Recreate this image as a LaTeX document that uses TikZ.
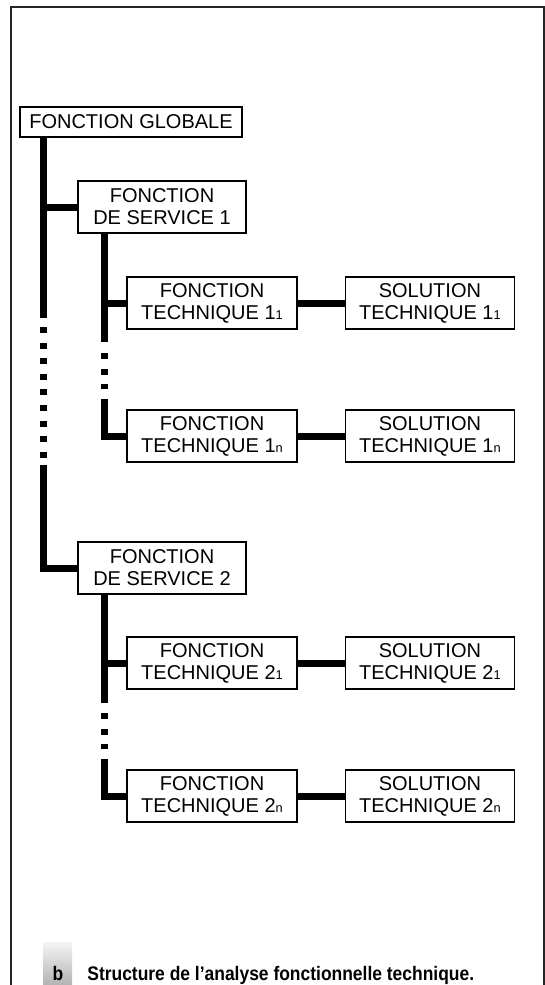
\documentclass[tikz,border=0pt]{standalone}
\usepackage{fontspec}
\setmainfont{Liberation Sans}
\newfontfamily\capfont[FakeStretch=0.89]{Liberation Sans}
\usepackage{tikz}
\usetikzlibrary{positioning,calc}
\newcommand{\lowidx}[1]{{\fontsize{6.4pt}{6.4pt}\selectfont #1}}
\tikzset{
  fglob/.style={draw, rectangle, line width=0.7pt, minimum width=111pt, minimum height=15pt, inner sep=1pt, align=center, font=\fontsize{10pt}{11pt}\selectfont},
  fserv/.style={draw, rectangle, line width=0.7pt, minimum width=84pt, minimum height=26pt, inner sep=1pt, align=center, font=\fontsize{10pt}{11pt}\selectfont},
  ftech/.style={draw, rectangle, line width=0.7pt, minimum width=85pt, minimum height=26pt, inner sep=1pt, align=center, font=\fontsize{10pt}{11pt}\selectfont},
  stech/.style={draw, rectangle, line width=0.7pt, minimum width=84.5pt, minimum height=26pt, inner sep=1pt, align=center, font=\fontsize{10pt}{11pt}\selectfont},
  bar/.style={line width=3.5pt, line join=miter},
  dotbar/.style={dash pattern=on 3pt off 4.8pt},
  frame/.style={line width=0.75pt, black!85},
  tagbox/.style={top color=gray!8, bottom color=gray!60, draw=none},
  capt/.style={font=\capfont\bfseries\fontsize{9.8pt}{11pt}\selectfont, inner sep=0pt}
}

\begin{document}
\begin{tikzpicture}[x=0.5pt, y=-0.5pt, node distance=23.5pt]
  \useasboundingbox (0,0) rectangle (545,985);
  \draw[frame] (11,985) -- (11,7) -- (544,7) -- (544,985);

  \node[fglob] (fg) at (131,122) {FONCTION GLOBALE};
  \node[fserv] (fs1) at (162,207) {FONCTION\\DE SERVICE 1};
  \node[ftech] (ft11) at (212,303) {FONCTION\\TECHNIQUE 1\lowidx{1}};
  \node[stech, right=of ft11] (st11) {SOLUTION\\TECHNIQUE 1\lowidx{1}};
  \node[ftech] (ft1n) at (212,436) {FONCTION\\TECHNIQUE 1\lowidx{n}};
  \node[stech, right=of ft1n] (st1n) {SOLUTION\\TECHNIQUE 1\lowidx{n}};
  \node[fserv] (fs2) at (162,568) {FONCTION\\DE SERVICE 2};
  \node[ftech] (ft21) at (212,663) {FONCTION\\TECHNIQUE 2\lowidx{1}};
  \node[stech, right=of ft21] (st21) {SOLUTION\\TECHNIQUE 2\lowidx{1}};
  \node[ftech] (ft2n) at (212,796) {FONCTION\\TECHNIQUE 2\lowidx{n}};
  \node[stech, right=of ft2n] (st2n) {SOLUTION\\TECHNIQUE 2\lowidx{n}};

  % main trunk
  \coordinate (m1) at (43,318);
  \coordinate (m2) at (43,327);
  \coordinate (m3) at (43,458);
  \coordinate (m4) at (43,465);
  \draw[bar] (fg.south -| m1) -- (m1);
  \draw[bar, dotbar] (m2) -- (m3);
  \draw[bar] (m4) |- (fs2);
  \draw[bar] (fs1.west) -- (fs1.west -| m1);

  % service 1
  \coordinate (a1) at (104,342);
  \coordinate (a2) at (104,353);
  \coordinate (a3) at (104,389);
  \coordinate (a4) at (104,399);
  \draw[bar] (fs1.south -| a1) -- (a1);
  \draw[bar, dotbar] (a2) -- (a3);
  \draw[bar] (a4) |- (ft1n);
  \draw[bar] (ft11.west) -- (ft11.west -| a1);
  \draw[bar] (ft11) -- (st11);
  \draw[bar] (ft1n) -- (st1n);

  % service 2
  \coordinate (b1) at (104,703);
  \coordinate (b2) at (104,713);
  \coordinate (b3) at (104,749);
  \coordinate (b4) at (104,759);
  \draw[bar] (fs2.south -| b1) -- (b1);
  \draw[bar, dotbar] (b2) -- (b3);
  \draw[bar] (b4) |- (ft2n);
  \draw[bar] (ft21.west) -- (ft21.west -| b1);
  \draw[bar] (ft21) -- (st21);
  \draw[bar] (ft2n) -- (st2n);

  % caption
  \shade[tagbox] (43,942) rectangle (72,985);
  \node[capt, anchor=base] (tag) at (58,980) {b};
  \node[capt, anchor=base west] (cap) at (87,980) {Structure de l’analyse fonctionnelle technique.};
\end{tikzpicture}
\end{document}
